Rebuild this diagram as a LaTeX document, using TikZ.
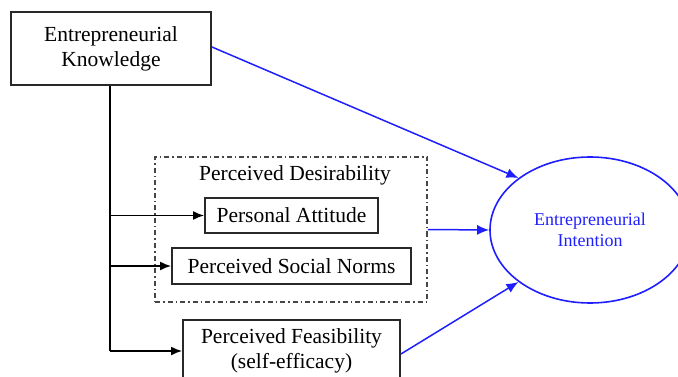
\documentclass[tikz,border=0pt]{standalone}
\usepackage{fontspec}
\setmainfont{Liberation Serif}
\usetikzlibrary{arrows.meta,shapes.geometric}
\definecolor{boxgray}{RGB}{40,40,40}
\definecolor{dashgray}{RGB}{70,70,70}
\definecolor{lineblue}{RGB}{30,30,255}
\begin{document}
\begin{tikzpicture}[x=1pt,y=-1pt,
  box/.style={draw=boxgray,line width=1.9pt,rectangle,inner sep=0pt,align=center,
    font=\fontsize{21.5}{25}\selectfont},
  dashbox/.style={draw=dashgray,line width=1.6pt,dash pattern=on 5pt off 3pt on 1.5pt off 3pt,
    rectangle,inner sep=0pt},
  blk/.style={draw=black,line width=1.6pt,-{Latex[length=11pt,width=9pt]}},
  blu/.style={draw=lineblue,line width=1.5pt,-{Latex[length=12pt,width=10pt]}},
  lbl/.style={font=\fontsize{21.5}{25}\selectfont,inner sep=0pt}
]
\useasboundingbox (0,0) rectangle (678,377);
\clip (0,0) rectangle (678,377);
\node[box,minimum width=200pt,minimum height=73pt] (know) at (111,48.5) {Entrepreneurial\\Knowledge};
\node[dashbox,minimum width=272pt,minimum height=145pt] (desir) at (291,229.5) {};
\node[lbl] (desirt) at (295,175) {Perceived Desirability};
\node[box,minimum width=173pt,minimum height=35pt] (pa) at (291.5,215.5) {Personal Attitude};
\node[box,minimum width=239pt,minimum height=36pt] (sn) at (291.5,266) {Perceived Social Norms};
\node[box,minimum width=217pt,minimum height=62pt] (feas) at (291.5,351) {Perceived Feasibility\\(self-efficacy)};
\node[draw=lineblue,line width=1.6pt,ellipse,minimum width=200pt,minimum height=146pt,inner sep=0pt,
  align=center,text=lineblue,font=\fontsize{18}{21}\selectfont] (ell) at (590,230) {Entrepreneurial\\Intention};
\coordinate (trunk) at ([xshift=-1pt]know.south);
\draw[line width=1.6pt] (trunk) -- (trunk |- feas.west);
\draw[blk] (trunk |- pa.west) -- (pa.west);
\draw[blk] (trunk |- sn.west) -- (sn.west);
\draw[blk] (trunk |- feas.west) -- (feas.west);
\draw[blu] ([yshift=1.5pt]know.east) -- (ell.144);
\draw[blu] (desir.east) -- (ell.west);
\draw[blu] ([yshift=-3pt]feas.east) -- (ell.216);
\end{tikzpicture}
\end{document}
